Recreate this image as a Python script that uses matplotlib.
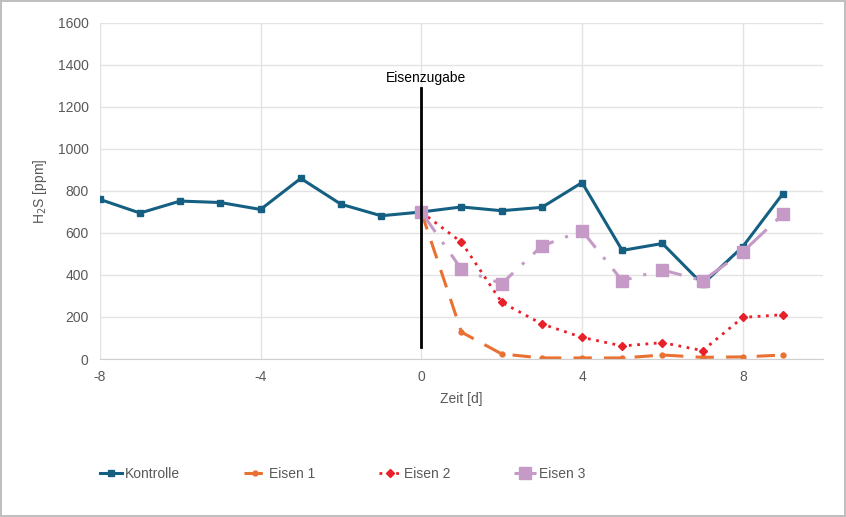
import matplotlib.pyplot as plt

plt.rcParams['font.family'] = ['Liberation Sans Narrow', 'Liberation Sans', 'DejaVu Sans']
plt.rcParams['axes.unicode_minus'] = False

# data
tage_kontrolle = [-8, -7, -6, -5, -4, -3, -2, -1, 0, 1, 2, 3, 4, 5, 6, 7, 8, 9]
kontrolle = [760, 695, 752, 745, 712, 860, 737, 682, 700, 724, 706, 722, 840, 517, 550, 356, 535, 788]

tage_eisen = [0, 1, 2, 3, 4, 5, 6, 7, 8, 9]
eisen1 = [700, 128, 24, 5, 5, 5, 19, 8, 10, 19]
eisen2 = [700, 556, 270, 167, 103, 62, 78, 40, 198, 211]
eisen3 = [700, 427, 359, 538, 610, 373, 424, 373, 510, 690]

grey = '#595959'

fig = plt.figure(figsize=(8.46, 5.17), dpi=100)
fig.patch.set_edgecolor('#BFBFBF')
fig.patch.set_linewidth(1.5)
ax = fig.add_axes([0.118, 0.3056, 0.855, 0.65])

ax.plot(tage_kontrolle, kontrolle, color='#156082', lw=2.2, marker='s', ms=5, label='Kontrolle')
ax.plot(tage_eisen, eisen1, color='#E97132', lw=2.2, ls=(0, (6, 4)), marker='o', ms=3.5, label='Eisen 1')
ax.plot(tage_eisen, eisen2, color='#E8202A', lw=2.0, ls=(0, (1, 2)), marker='D', ms=4.5, label='Eisen 2')
ax.plot(tage_eisen, eisen3, color='#C59AC7', lw=2.2, ls=(0, (8, 4, 1, 4)), marker='s', ms=8, label='Eisen 3')

# Eisenzugabe marker line
ax.plot([0, 0], [57, 1290], color='black', lw=2, zorder=5)
ax.text(0.12, 1340, 'Eisenzugabe', ha='center', va='center', fontsize=10, color='black')

ax.set_xlim(-8, 10)
ax.set_ylim(0, 1600)
ax.set_xticks([-8, -4, 0, 4, 8])
ax.set_yticks(range(0, 1601, 200))
ax.grid(True, color='#E3E3E3', lw=1)
ax.set_axisbelow(True)
for s in ['top', 'right', 'left']:
    ax.spines[s].set_visible(False)
ax.spines['bottom'].set_color('#D0D0D0')
ax.tick_params(length=0, colors=grey, labelsize=10, pad=8)

ax.set_xlabel('Zeit [d]', color=grey, fontsize=10, labelpad=6)
ax.set_ylabel('H$_2$S [ppm]', color=grey, fontsize=10, labelpad=6)

leg = fig.legend(loc='center', bbox_to_anchor=(0.405, 0.083), ncol=4, frameon=False,
                 fontsize=10, columnspacing=4.6, handlelength=1.6, handletextpad=0.2)
for t in leg.get_texts():
    t.set_color(grey)

fig.savefig('out.png', dpi=100)
